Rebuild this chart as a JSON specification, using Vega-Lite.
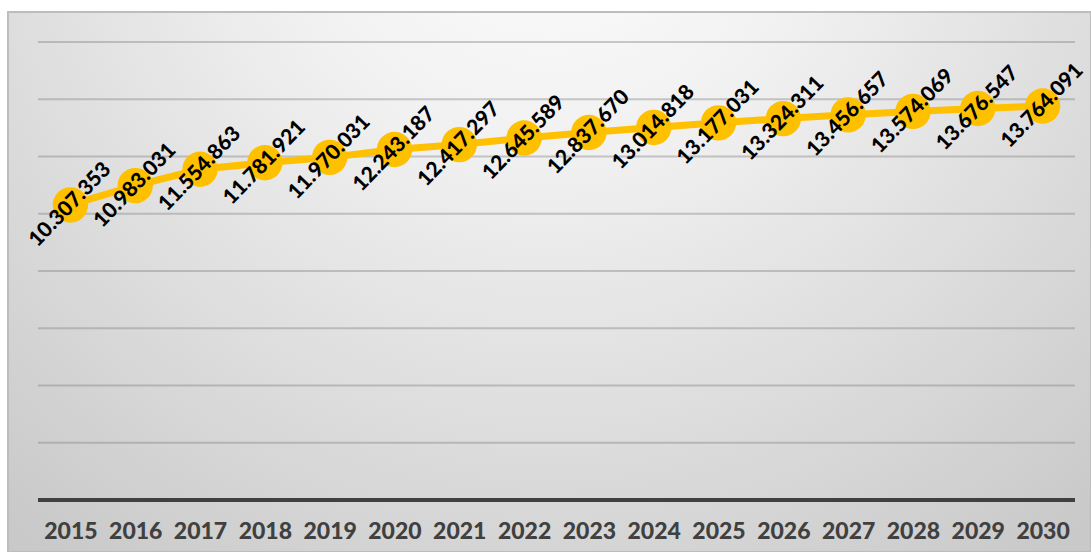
{
  "$schema": "https://vega.github.io/schema/vega-lite/v6.json",
  "width": 1083,
  "height": 540,
  "autosize": {"type": "none"},
  "padding": {"left": 8, "top": 12, "right": 0, "bottom": 0},
  "background": "#ffffff",
  "config": {
    "view": {
      "fill": {
        "gradient": "radial",
        "x1": 0.5, "y1": 0.12, "r1": 0,
        "x2": 0.5, "y2": 0.12, "r2": 0.78,
        "stops": [
          {"offset": 0, "color": "#ffffff"},
          {"offset": 0.35, "color": "#f0f0f0"},
          {"offset": 1, "color": "#c9c9c9"}
        ]
      },
      "stroke": "#bdbdbd",
      "strokeWidth": 2
    },
    "locale": {
      "number": {"decimal": ",", "thousands": ".", "grouping": [3], "currency": ["", ""]}
    }
  },
  "datasets": {
    "series": [
      {"year": 2015, "value": 10307353},
      {"year": 2016, "value": 10983031},
      {"year": 2017, "value": 11554863},
      {"year": 2018, "value": 11781921},
      {"year": 2019, "value": 11970031},
      {"year": 2020, "value": 12243187},
      {"year": 2021, "value": 12417297},
      {"year": 2022, "value": 12645589},
      {"year": 2023, "value": 12837670},
      {"year": 2024, "value": 13014818},
      {"year": 2025, "value": 13177031},
      {"year": 2026, "value": 13324311},
      {"year": 2027, "value": 13456657},
      {"year": 2028, "value": 13574069},
      {"year": 2029, "value": 13676547},
      {"year": 2030, "value": 13764091}
    ],
    "grid": [
      {"tick": 2000000}, {"tick": 4000000}, {"tick": 6000000}, {"tick": 8000000},
      {"tick": 10000000}, {"tick": 12000000}, {"tick": 14000000}, {"tick": 16000000}
    ]
  },
  "layer": [
    {
      "data": {"name": "grid"},
      "mark": {"type": "rule", "color": "#7f7f7f", "opacity": 0.4, "strokeWidth": 2},
      "encoding": {
        "x": {
          "datum": 2014.5, "type": "quantitative",
          "scale": {"domain": [2014.037, 2030.747], "nice": false, "zero": false},
          "axis": {
            "values": [2015, 2016, 2017, 2018, 2019, 2020, 2021, 2022, 2023, 2024, 2025, 2026, 2027, 2028, 2029, 2030],
            "format": "d",
            "domain": false, "ticks": false, "tickSize": 0, "grid": false,
            "offset": -52,
            "labelPadding": 20,
            "labelFont": "Lato", "labelFontWeight": 900, "labelFontSize": 23,
            "labelColor": "#404040", "labelFlush": false, "labelOverlap": false,
            "title": null
          }
        },
        "x2": {"datum": 2030.5},
        "y": {"field": "tick", "type": "quantitative", "scale": {"domain": [-1816594, 17048035], "nice": false, "zero": false}, "axis": null}
      }
    },
    {
      "data": {"name": "series"},
      "layer": [
        {
          "mark": {"type": "rule", "color": "#404040", "strokeWidth": 3.5},
          "encoding": {
            "x": {"datum": 2014.5, "type": "quantitative"},
            "x2": {"datum": 2030.5},
            "y": {"datum": 0, "type": "quantitative"}
          }
        },
        {
          "mark": {"type": "line", "color": "#FFC000", "strokeWidth": 7},
          "encoding": {
            "x": {"field": "year", "type": "quantitative"},
            "y": {"field": "value", "type": "quantitative"}
          }
        },
        {
          "mark": {"type": "circle", "color": "#FFC000", "opacity": 1, "size": 1250},
          "encoding": {
            "x": {"field": "year", "type": "quantitative"},
            "y": {"field": "value", "type": "quantitative"}
          }
        },
        {
          "mark": {"type": "text", "angle": -46, "align": "center", "baseline": "middle", "font": "Lato", "fontWeight": 900, "fontSize": 21, "color": "#000000"},
          "encoding": {
            "x": {"field": "year", "type": "quantitative"},
            "y": {"field": "value", "type": "quantitative"},
            "text": {"field": "value", "type": "quantitative", "format": ",d"}
          }
        }
      ]
    }
  ]
}
